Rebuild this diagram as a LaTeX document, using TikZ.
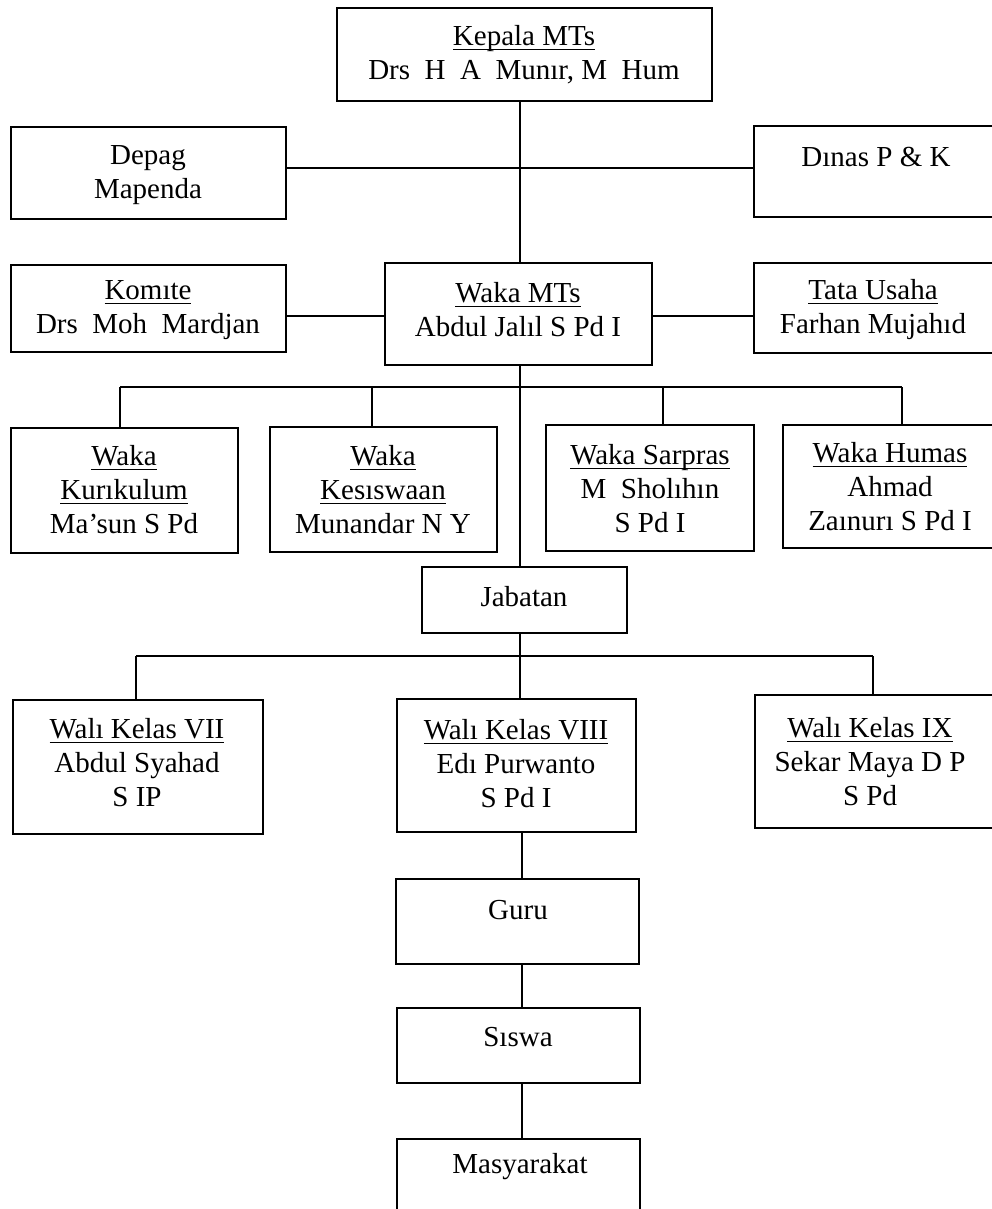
\documentclass[tikz,border=0pt]{standalone}
\usepackage{fontspec}
\setmainfont{Liberation Serif}
\newcommand\ulx[1]{\setbox0=\hbox{#1}\leavevmode\rlap{\rule[-4.5pt]{\wd0}{1.3pt}}\box0}
\newcommand\obox[5]{\node[orgbox, minimum width={#4-#2}, minimum height={#5-#3}] (#1) at ({(#2+#4)/2},{(#3+#5)/2}) {};}
\begin{document}
\begin{tikzpicture}[x=1pt,y=-1pt,
  orgbox/.style={draw, rectangle, line width=1.8pt, inner sep=0pt, outer sep=0pt},
  lbl/.style={align=center, inner sep=0pt, font=\fontsize{29}{34}\selectfont},
  conn/.style={line width=1.4pt}]
\useasboundingbox (0,0) rectangle (992,1209);
\fill[white] (0,0) rectangle (992,1209);
\clip (0,0) rectangle (992,1209);
% boxes
\obox{kepala}{337}{8}{712}{101}
\obox{depag}{11}{127}{286}{219}
\obox{dinas}{754}{126}{1010}{217}
\obox{komite}{11}{265}{286}{352}
\obox{wakamts}{385}{263}{652}{365}
\obox{tata}{754}{263}{1010}{353}
\obox{kurikulum}{11}{428}{238}{553}
\obox{kesiswaan}{270}{427}{497}{552}
\obox{sarpras}{546}{425}{754}{551}
\obox{humas}{783}{425}{1010}{548}
\obox{jabatan}{422}{567}{627}{633}
\obox{wali7}{13}{700}{263}{834}
\obox{wali8}{397}{699}{636}{832}
\obox{wali9}{755}{695}{1010}{828}
\obox{guru}{396}{879}{639}{964}
\obox{siswa}{397}{1008}{640}{1083}
\obox{masy}{397}{1139}{640}{1240}
% texts
\node[lbl] (t-kepala) at (524,55) {\ulx{Kepala MTs}\\Drs\ \ H\ \ A\ \ Munır, M\ \ Hum};
\node[lbl] (t-depag) at (148,175) {Depag\\Mapenda};
\node[lbl] (t-dinas) at (876,157) {Dınas P \& K};
\node[lbl] (t-komite) at (148,310) {\ulx{Komıte}\\Drs\ \ Moh\ \ Mardjan};
\node[lbl] (t-wakamts) at (518,310) {\ulx{Waka MTs}\\Abdul Jalıl S Pd I};
\node[lbl] (t-tata) at (873,310) {\ulx{Tata Usaha}\\Farhan Mujahıd};
\node[lbl] (t-kurikulum) at (124,490) {\ulx{Waka}\\\ulx{Kurıkulum}\\Ma’sun S Pd};
\node[lbl] (t-kesiswaan) at (383,490) {\ulx{Waka}\\\ulx{Kesıswaan}\\Munandar N Y};
\node[lbl] (t-sarpras) at (650,489) {\ulx{Waka Sarpras}\\M\ \ Sholıhın\\S Pd I};
\node[lbl] (t-humas) at (890,487) {\ulx{Waka Humas}\\Ahmad\\Zaınurı S Pd I};
\node[lbl] (t-jabatan) at (524,597) {Jabatan};
\node[lbl] (t-wali7) at (137,763) {\ulx{Walı Kelas VII}\\Abdul Syahad\\S IP};
\node[lbl] (t-wali8) at (516,764) {\ulx{Walı Kelas VIII}\\Edı Purwanto\\S Pd I};
\node[lbl] (t-wali9) at (870,762) {\ulx{Walı Kelas IX}\\Sekar Maya D P\\S Pd};
\node[lbl] (t-guru) at (518,910) {Guru};
\node[lbl] (t-siswa) at (518,1037) {Sıswa};
\node[lbl] (t-masy) at (520,1167) {Masyarakat};
% connector coordinates
\coordinate (mx) at (520,0);
\coordinate (mx2) at (522,0);
\coordinate (h1) at (0,168);
\coordinate (h2) at (0,316);
\coordinate (d1) at (120,387);
\coordinate (d2) at (372,387);
\coordinate (d3) at (663,387);
\coordinate (d4) at (902,387);
\coordinate (e1) at (136,656);
\coordinate (e3) at (873,656);
% connectors
\draw[conn] (kepala.south -| mx) -- (wakamts.north -| mx);
\draw[conn] (depag.east |- h1) -- (dinas.west |- h1);
\draw[conn] (komite.east |- h2) -- (wakamts.west |- h2);
\draw[conn] (wakamts.east |- h2) -- (tata.west |- h2);
\draw[conn] (wakamts.south -| mx) -- (jabatan.north -| mx);
\draw[conn] (d1) -- (d4);
\draw[conn] (d1) -- (kurikulum.north -| d1);
\draw[conn] (d2) -- (kesiswaan.north -| d2);
\draw[conn] (d3) -- (sarpras.north -| d3);
\draw[conn] (d4) -- (humas.north -| d4);
\draw[conn] (e1) -- (e3);
\draw[conn] (e1) -- (wali7.north -| e1);
\draw[conn] (e3) -- (wali9.north -| e3);
\draw[conn] (jabatan.south -| mx) -- (wali8.north -| mx);
\draw[conn] (wali8.south -| mx2) -- (guru.north -| mx2);
\draw[conn] (guru.south -| mx2) -- (siswa.north -| mx2);
\draw[conn] (siswa.south -| mx2) -- (masy.north -| mx2);
\end{tikzpicture}
\end{document}
